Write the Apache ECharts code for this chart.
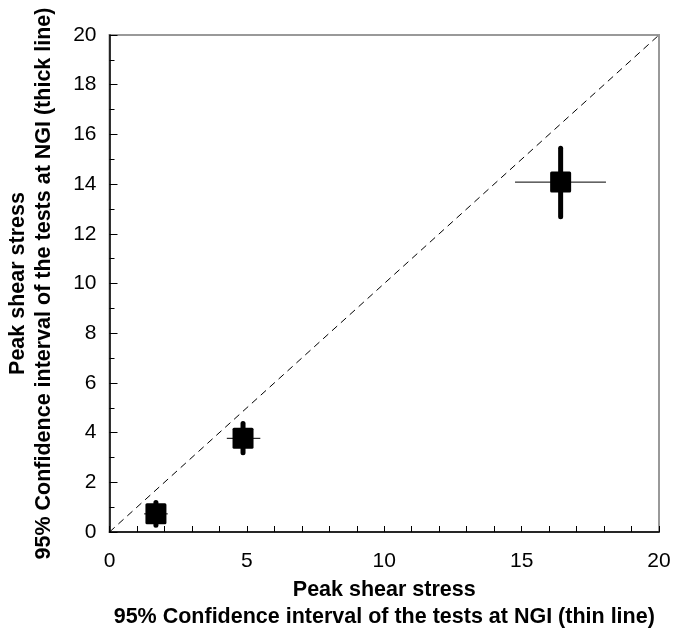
<!DOCTYPE html>
<html>
<head>
<meta charset="utf-8">
<script src="https://cdn.jsdelivr.net/npm/echarts@6/dist/echarts.min.js"></script>
<style>
  html, body { margin: 0; padding: 0; background: #fff; }
  #chart { width: 682px; height: 628px; }
</style>
</head>
<body>
<div id="chart"></div>
<script>
// Peak shear stress: mean values and 95% confidence intervals
const xMean = [1.69, 4.86, 16.42];
const yMean = [0.73, 3.77, 14.08];
// thin horizontal line: x interval
const xLow = [1.26, 4.27, 14.76];
const xHigh = [2.12, 5.49, 18.07];
// thick vertical line: y interval
const yLow = [0.27, 3.19, 12.69];
const yHigh = [1.19, 4.37, 15.44];
// 1:1 reference line
const diagonal = [[0, 0], [20, 20]];

const FONT = '"Liberation Sans", Arial, sans-serif';
// square marker with slightly rounded corners
const SQUARE = 'path://M1.5,0H19.5Q21,0 21,1.5V19.5Q21,21 19.5,21H1.5Q0,21 0,19.5V1.5Q0,0 1.5,0Z';

const intervals = xMean.map((x, i) => [x, yMean[i], xLow[i], xHigh[i], yLow[i], yHigh[i]]);
const points = xMean.map((x, i) => [x, yMean[i]]);

const chart = echarts.init(document.getElementById('chart'));
chart.setOption({
  animation: false,
  backgroundColor: '#fff',
  grid: {
    left: 109.5, right: 23, top: 35, bottom: 96,
    outerBoundsMode: 'none', containLabel: false,
    show: true, borderColor: '#999', borderWidth: 2, backgroundColor: 'transparent'
  },
  xAxis: {
    type: 'value', min: 0, max: 20, interval: 1,
    name: 'Peak shear stress\n95% Confidence interval of the tests at NGI (thin line)',
    nameLocation: 'middle', nameGap: 42,
    nameTextStyle: { fontFamily: FONT, fontWeight: 'bold', fontSize: 21.5, color: '#000', lineHeight: 27 },
    axisLine: { lineStyle: { color: '#000', width: 1.5 } },
    axisTick: { inside: true, length: 6, lineStyle: { color: '#000' } },
    axisLabel: {
      fontFamily: FONT, fontSize: 21, color: '#000', margin: 19,
      formatter: v => (v % 5 === 0 ? String(v) : '')
    },
    splitLine: { show: false }
  },
  yAxis: {
    type: 'value', min: 0, max: 20, interval: 2,
    name: 'Peak shear stress\n95% Confidence interval of the tests at NGI (thick line)',
    nameLocation: 'middle', nameGap: 52, nameRotate: 90,
    nameTextStyle: { fontFamily: FONT, fontWeight: 'bold', fontSize: 21.5, color: '#000', lineHeight: 26 },
    axisLine: { lineStyle: { color: '#000', width: 1.5 } },
    axisTick: { inside: true, length: 8, lineStyle: { color: '#000' } },
    minorTick: { show: true, splitNumber: 2, length: 5, lineStyle: { color: '#000' } },
    axisLabel: { fontFamily: FONT, fontSize: 21, color: '#000', margin: 13 },
    splitLine: { show: false }
  },
  series: [
    {
      type: 'line',
      data: diagonal,
      symbol: 'none',
      lineStyle: { color: '#000', width: 1, type: [7, 5] },
      z: 1
    },
    {
      type: 'custom',
      data: intervals,
      renderItem: function (params, api) {
        const x = api.value(0), y = api.value(1);
        const l = api.coord([api.value(2), y]);
        const r = api.coord([api.value(3), y]);
        const b = api.coord([x, api.value(4)]);
        const t = api.coord([x, api.value(5)]);
        return {
          type: 'group',
          children: [
            { type: 'line', shape: { x1: l[0], y1: l[1], x2: r[0], y2: r[1] },
              style: { stroke: '#000', lineWidth: 1 } },
            { type: 'line', shape: { x1: b[0], y1: b[1], x2: t[0], y2: t[1] },
              style: { stroke: '#000', lineWidth: 5, lineCap: 'round' } }
          ]
        };
      },
      z: 2
    },
    {
      type: 'scatter',
      data: points,
      symbol: SQUARE,
      symbolSize: 21,
      itemStyle: { color: '#000', opacity: 1 },
      z: 3
    }
  ]
});
</script>
</body>
</html>
